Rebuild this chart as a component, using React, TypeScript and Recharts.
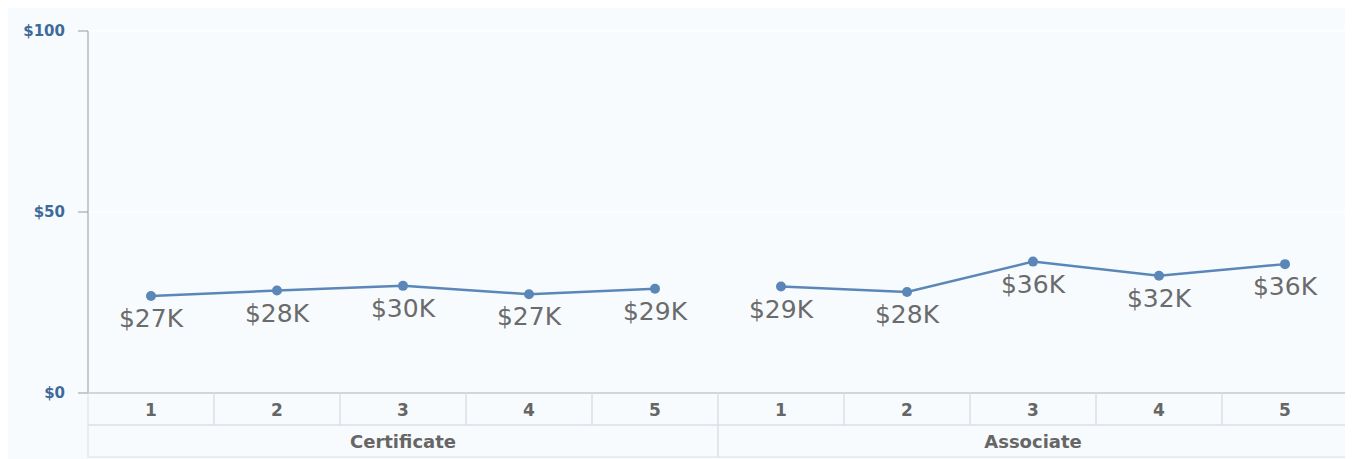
import { LineChart, Line, XAxis, YAxis, CartesianGrid, LabelList } from 'recharts'

// ── Data ───────────────────────────────────────────────────────

const groups = ['Certificate', 'Associate']
const levels = ['1', '2', '3', '4', '5']
const certificate = [26.8, 28.3, 29.6, 27.3, 28.8]
const associate = [29.4, 27.9, 36.3, 32.4, 35.6]
const yTicks = [0, 50, 100]

const data = groups.flatMap((g, gi) =>
  levels.map((l, li) => ({
    key: `${g}-${l}`,
    level: l,
    group: g,
    cert: gi === 0 ? certificate[li] : null,
    assoc: gi === 1 ? associate[li] : null,
  })),
)

// ── Layout ─────────────────────────────────────────────────────

const W = 1343
const H = 451
const MARGIN = { top: 23, right: 3, left: 0, bottom: 1 }
const Y_W = 80
const X_H = 65
const CELL = (W - MARGIN.left - MARGIN.right - Y_W) / data.length
const LINE = '#5b87b8'
const BORDER = '#dcdfe3'
const FONT = '"DejaVu Sans", Verdana, sans-serif'

function CellTick(props: any) {
  const { x, y, index } = props
  const d = data[index]
  if (!d) return null
  const left = x - CELL / 2
  const first = index === 0 || data[index - 1].group !== d.group
  const span = data.filter((r) => r.group === d.group).length
  return (
    <g>
      <rect x={left} y={y} width={CELL} height={32} fill="none" stroke={BORDER} />
      <text x={x} y={y + 23} textAnchor="middle" fontFamily={FONT} fontWeight="bold" fontSize={17} fill="#666">
        {d.level}
      </text>
      {first && (
        <g>
          <rect x={left} y={y + 32} width={CELL * span} height={32} fill="none" stroke={BORDER} />
          <text x={left + (CELL * span) / 2} y={y + 55} textAnchor="middle" fontFamily={FONT} fontWeight="bold" fontSize={18} fill="#666">
            {d.group}
          </text>
        </g>
      )}
    </g>
  )
}

function ValueLabel(props: any) {
  const { x, y, value } = props
  if (value == null) return null
  return (
    <text x={x} y={y + 31} textAnchor="middle" fontFamily={FONT} fontSize={25} fill="#6b6b6b">
      {`$${Math.round(value)}K`}
    </text>
  )
}

export default function App() {
  return (
    <div style={{ width: W, height: H, background: '#f7fbfe' }}>
      <LineChart width={W} height={H} data={data} margin={MARGIN}>
        <CartesianGrid vertical={false} stroke="#ffffff" />
        <XAxis
          dataKey="key"
          scale="band"
          height={X_H}
          interval={0}
          tickLine={false}
          tickSize={0}
          tickMargin={0}
          axisLine={{ stroke: '#999' }}
          tick={<CellTick />}
        />
        <YAxis
          width={Y_W}
          domain={[0, 100]}
          ticks={yTicks}
          tickSize={10}
          tickMargin={13}
          tickLine={{ stroke: '#999' }}
          axisLine={{ stroke: '#999' }}
          tickFormatter={(v: number) => `$${v}`}
          tick={{ fontFamily: FONT, fontWeight: 'bold', fontSize: 15, fill: '#3d6a99' }}
        />
        <Line dataKey="cert" stroke={LINE} strokeWidth={2.5} dot={{ r: 5, fill: LINE, stroke: LINE, strokeWidth: 0 }} isAnimationActive={false}>
          <LabelList dataKey="cert" content={<ValueLabel />} />
        </Line>
        <Line dataKey="assoc" stroke={LINE} strokeWidth={2.5} dot={{ r: 5, fill: LINE, stroke: LINE, strokeWidth: 0 }} isAnimationActive={false}>
          <LabelList dataKey="assoc" content={<ValueLabel />} />
        </Line>
      </LineChart>
    </div>
  )
}
